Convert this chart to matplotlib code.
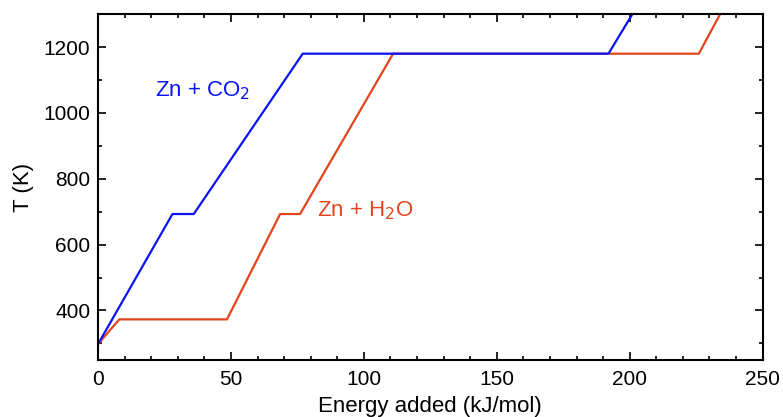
import matplotlib
matplotlib.use("Agg")
import matplotlib.pyplot as plt
from matplotlib.ticker import MultipleLocator

plt.rcParams['font.family'] = ['Liberation Sans', 'DejaVu Sans']

# heating curves: energy added (kJ/mol) vs temperature (K)
co2_energy = [0, 28, 36, 77, 192, 201]
co2_temp = [298, 693, 693, 1180, 1180, 1300]

h2o_energy = [0, 8, 48.5, 68.5, 76, 111, 226, 234]
h2o_temp = [298, 373, 373, 693, 693, 1180, 1180, 1300]

blue = '#0a14f5'
red = '#e2441e'

fig = plt.figure(figsize=(7.83, 4.17), dpi=100)
ax = fig.add_axes([0.1252, 0.137, 0.8488, 0.829])

ax.plot(h2o_energy, h2o_temp, color=red, lw=1.6)
ax.plot(co2_energy, co2_temp, color=blue, lw=1.6)

ax.text(21.5, 1068, 'Zn + CO$_2$', color=blue, fontsize=16, va='center')
ax.text(82.5, 703, 'Zn + H$_2$O', color=red, fontsize=16, va='center')

ax.set_xlim(0, 250)
ax.set_ylim(250, 1300)
ax.xaxis.set_major_locator(MultipleLocator(50))
ax.xaxis.set_minor_locator(MultipleLocator(10))
ax.yaxis.set_major_locator(MultipleLocator(200))
ax.yaxis.set_minor_locator(MultipleLocator(100))
ax.tick_params(which='both', direction='in', top=True, right=True, labelsize=15, width=1.2)
ax.tick_params(which='major', length=5.5)
ax.tick_params(which='minor', length=3)
ax.tick_params(axis='x', which='major', pad=7)
ax.tick_params(axis='y', which='major', pad=5.5)
for s in ax.spines.values():
    s.set_linewidth(1.5)

ax.set_xlabel('Energy added (kJ/mol)', fontsize=16, labelpad=5)
ax.set_ylabel('T (K)', fontsize=16, labelpad=7)

fig.savefig('out.png', dpi=100)
